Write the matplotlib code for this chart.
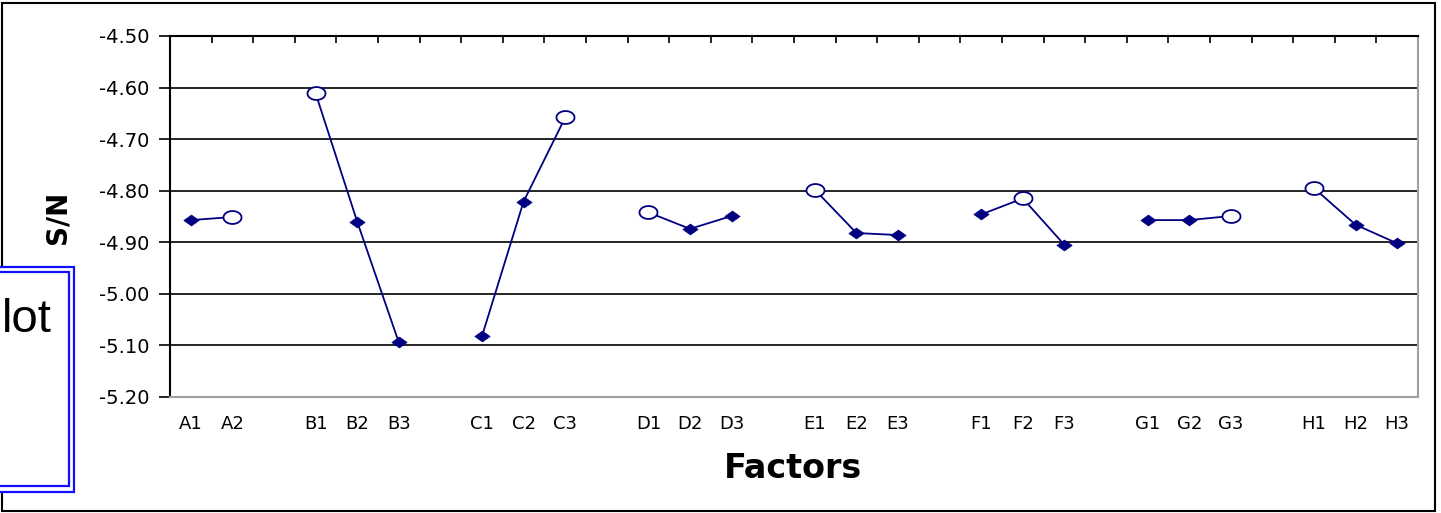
import numpy as np
import matplotlib
matplotlib.use("Agg")
import matplotlib.pyplot as plt
from matplotlib.path import Path
from matplotlib.patches import Rectangle

# ---- data ----
factor_groups = ["A", "B", "C", "D", "E", "F", "G", "H"]
level_labels = [
    ["A1", "A2"],
    ["B1", "B2", "B3"],
    ["C1", "C2", "C3"],
    ["D1", "D2", "D3"],
    ["E1", "E2", "E3"],
    ["F1", "F2", "F3"],
    ["G1", "G2", "G3"],
    ["H1", "H2", "H3"],
]
sn_A = [-4.857, -4.851]
sn_B = [-4.611, -4.860, -5.094]
sn_C = [-5.082, -4.821, -4.658]
sn_D = [-4.842, -4.874, -4.849]
sn_E = [-4.798, -4.882, -4.886]
sn_F = [-4.846, -4.815, -4.905]
sn_G = [-4.857, -4.857, -4.849]
sn_H = [-4.795, -4.866, -4.902]
sn_values = [sn_A, sn_B, sn_C, sn_D, sn_E, sn_F, sn_G, sn_H]
y_ticks = [-5.20, -5.10, -5.00, -4.90, -4.80, -4.70, -4.60, -4.50]
box_text = "lot"

# ---- styling ----
NAVY = "#000080"
W, H = 1441, 513
fig = plt.figure(figsize=(W / 100, H / 100), dpi=100)
ax = fig.add_axes([170 / W, 1 - 397 / H, 1248 / W, 361 / H])

# markers shaped like the stretched originals
diamond = Path([(-1.4, 0), (0, 1), (1.4, 0), (0, -1), (-1.4, 0)],
               [Path.MOVETO, Path.LINETO, Path.LINETO, Path.LINETO, Path.CLOSEPOLY])
t = np.linspace(0, 2 * np.pi, 60)
ellipse = Path(np.column_stack([1.4 * np.cos(t), np.sin(t)]))

# build category positions: groups separated by an empty category
cat_labels = []
pos = 0
for gi, (labs, vals) in enumerate(zip(level_labels, sn_values)):
    xs = np.arange(pos, pos + len(vals))
    ax.plot(xs, vals, color=NAVY, lw=1.3, zorder=3)
    best = int(np.argmax(vals))
    for k, (x, v) in enumerate(zip(xs, vals)):
        if k == best:
            ax.plot([x], [v], marker=ellipse, ms=13, mfc="white", mec=NAVY,
                    mew=1.3, zorder=4, ls="none")
        else:
            ax.plot([x], [v], marker=diamond, ms=11, mfc=NAVY, mec=NAVY,
                    mew=0.5, zorder=4, ls="none")
    cat_labels.extend(labs)
    pos += len(vals)
    if gi < len(level_labels) - 1:
        cat_labels.append("")
        pos += 1

n_cat = len(cat_labels)
ax.set_xlim(-0.5, n_cat - 0.5)
ax.set_ylim(-5.2, -4.5)

ax.set_yticks(y_ticks)
ax.set_yticklabels([f"{v:.2f}" for v in y_ticks], fontsize=14, family="DejaVu Sans")
ax.yaxis.grid(True, color="black", lw=1.2)
ax.set_axisbelow(True)
ax.tick_params(axis="y", direction="out", length=8, width=1.2, pad=7, color="black")

ax.set_xticks(np.arange(n_cat))
ax.set_xticklabels(cat_labels, fontsize=13, family="DejaVu Sans")
ax.tick_params(axis="x", which="major", length=0, pad=13)
ax.set_xticks(np.arange(n_cat - 1) + 0.5, minor=True)
ax.tick_params(axis="x", which="minor", top=True, bottom=False, direction="in",
               length=5, width=1.2, color="black")

for side in ["left", "top"]:
    ax.spines[side].set_color("black")
    ax.spines[side].set_linewidth(1.5)
for side in ["right", "bottom"]:
    ax.spines[side].set_color("#a0a0a0")
    ax.spines[side].set_linewidth(1.5)

fig.text(793 / W, 1 - 468 / H, "Factors", fontsize=24, fontweight="bold",
         family="DejaVu Sans", ha="center", va="center")
fig.text(57 / W, 1 - 217 / H, "S/N", fontsize=20, fontweight="bold",
         family="DejaVu Sans", rotation=90, ha="center", va="center")

# outer chart border
fig.patches.append(Rectangle((2 / W, 1 - 511 / H), 1433 / W, 508 / H,
                             transform=fig.transFigure, fill=False,
                             edgecolor="black", lw=1.5, zorder=5))
# blue double-lined text box on the left
fig.patches.append(Rectangle((-10 / W, 1 - 491.5 / H), 83.5 / W, 225 / H,
                             transform=fig.transFigure, facecolor="white",
                             edgecolor="#1010ff", lw=1.6, zorder=6))
fig.patches.append(Rectangle((-10 / W, 1 - 485.5 / H), 78.5 / W, 213.5 / H,
                             transform=fig.transFigure, fill=False,
                             edgecolor="#1010ff", lw=1.6, zorder=7))
fig.text(2 / W, 1 - 332 / H, box_text, fontsize=34,
         family="Liberation Sans",
         ha="left", va="baseline", zorder=8)

fig.savefig("out.png", dpi=100)
